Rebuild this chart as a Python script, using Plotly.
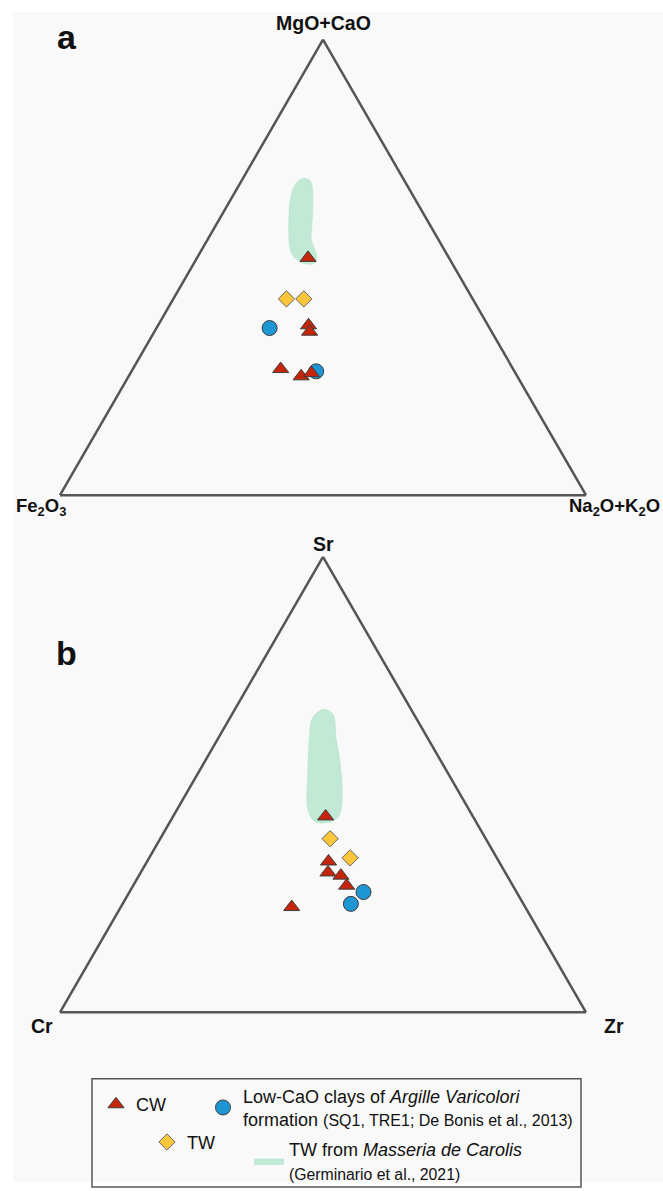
import plotly.graph_objects as go

# ---------------- data (fractions: top / bottom-left / bottom-right) ----------------
# Panel a: MgO+CaO / Fe2O3 / Na2O+K2O
a_cw_top = [0.521, 0.373, 0.359, 0.277, 0.261, 0.268]
a_cw_left = [0.268, 0.341, 0.346, 0.442, 0.411, 0.388]
a_cw_right = [0.211, 0.286, 0.295, 0.281, 0.328, 0.344]

a_tw_top = [0.431, 0.431]
a_tw_left = [0.354, 0.321]
a_tw_right = [0.215, 0.248]

a_clay_top = [0.367, 0.272]
a_clay_left = [0.418, 0.377]
a_clay_right = [0.215, 0.351]

a_field_top = [0.696, 0.690, 0.667, 0.623, 0.585, 0.563, 0.545, 0.528, 0.514, 0.508,
               0.508, 0.517, 0.534, 0.568, 0.612, 0.652, 0.683, 0.696]
a_field_left = [0.189, 0.179, 0.186, 0.208, 0.229, 0.241, 0.245, 0.248, 0.256, 0.265,
                0.280, 0.291, 0.294, 0.281, 0.259, 0.236, 0.211, 0.189]
a_field_right = [0.115, 0.131, 0.147, 0.169, 0.186, 0.196, 0.210, 0.224, 0.230, 0.227,
                 0.212, 0.192, 0.172, 0.151, 0.129, 0.112, 0.106, 0.115]

# Panel b: Sr / Cr / Zr
b_cw_top = [0.430, 0.331, 0.307, 0.300, 0.278, 0.231]
b_cw_left = [0.280, 0.324, 0.337, 0.316, 0.316, 0.444]
b_cw_right = [0.290, 0.345, 0.356, 0.384, 0.406, 0.325]

b_tw_top = [0.381, 0.339]
b_tw_left = [0.296, 0.279]
b_tw_right = [0.323, 0.382]

b_clay_top = [0.264, 0.238]
b_clay_left = [0.291, 0.328]
b_clay_right = [0.445, 0.434]

b_field_top = [0.665, 0.654, 0.602, 0.565, 0.491, 0.431, 0.416, 0.420, 0.446, 0.528, 0.602, 0.647, 0.665]
b_field_left = [0.166, 0.154, 0.174, 0.187, 0.218, 0.254, 0.285, 0.307, 0.306, 0.265, 0.225, 0.196, 0.166]
b_field_right = [0.169, 0.192, 0.224, 0.248, 0.291, 0.315, 0.299, 0.273, 0.248, 0.207, 0.173, 0.157, 0.169]

labels_a = ["MgO+CaO", "Fe<sub>2</sub>O<sub>3</sub>", "Na<sub>2</sub>O+K<sub>2</sub>O"]
labels_b = ["Sr", "Cr", "Zr"]

name_cw = "CW"
name_tw = "TW"
name_clay = ("Low-CaO clays of <i>Argille Varicolori</i><br>"
             "formation <span style='font-size:16px'>(SQ1, TRE1; De Bonis et al., 2013)</span>")
name_field = ("TW from <i>Masseria de Carolis</i><br>"
              "<span style='font-size:15.8px'>(Germinario et al., 2021)</span>")

# ---------------- styles ----------------
W, H = 663, 1191
FONT = "Liberation Sans, Arial, sans-serif"
RED = "#c4250b"
GOLD = "#fcc63c"
BLUE = "#1f96d4"
EDGE = "#3c3c3c"
GREEN_FILL = "rgba(165,225,193,0.65)"
BG = "#f9f9f9"

fig = go.Figure()


def add_panel(sub, field, clay, tw, cw, show):
    fig.add_trace(go.Scatterternary(
        a=field[0], b=field[1], c=field[2], subplot=sub, mode="lines",
        fill="toself", fillcolor=GREEN_FILL,
        line=dict(color=GREEN_FILL, width=0.5, shape="spline", smoothing=1.0),
        name=name_field, legend="legend4", legendgroup="field", showlegend=show,
        hoverinfo="skip"))
    fig.add_trace(go.Scatterternary(
        a=clay[0], b=clay[1], c=clay[2], subplot=sub, mode="markers",
        marker=dict(symbol="circle", size=15, color=BLUE, line=dict(color=EDGE, width=1)),
        name=name_clay, legend="legend2", legendgroup="clay", showlegend=show))
    fig.add_trace(go.Scatterternary(
        a=tw[0], b=tw[1], c=tw[2], subplot=sub, mode="markers",
        marker=dict(symbol="diamond", size=12.5, color=GOLD, line=dict(color="#666", width=1)),
        name=name_tw, legend="legend3", legendgroup="tw", showlegend=show))
    fig.add_trace(go.Scatterternary(
        a=cw[0], b=cw[1], c=cw[2], subplot=sub, mode="markers",
        marker=dict(symbol="triangle-up", size=14, color=RED, line=dict(color=EDGE, width=1)),
        name=name_cw, legend="legend", legendgroup="cw", showlegend=show))


add_panel("ternary",
          (a_field_top, a_field_left, a_field_right),
          (a_clay_top, a_clay_left, a_clay_right),
          (a_tw_top, a_tw_left, a_tw_right),
          (a_cw_top, a_cw_left, a_cw_right), True)
add_panel("ternary2",
          (b_field_top, b_field_left, b_field_right),
          (b_clay_top, b_clay_left, b_clay_right),
          (b_tw_top, b_tw_left, b_tw_right),
          (b_cw_top, b_cw_left, b_cw_right), False)

axis_style = dict(showgrid=False, showticklabels=False, ticks="", showline=True,
                  linecolor="#555555", linewidth=2.5, title=dict(text=""), min=0)


def ternary_layout(x0, x1, ytop, ybot):
    return dict(
        sum=1,
        domain=dict(x=[x0 / W, x1 / W], y=[1 - ybot / H, 1 - ytop / H]),
        bgcolor="rgba(0,0,0,0)",
        aaxis=axis_style, baxis=axis_style, caxis=axis_style,
    )


def px_x(v):
    return v / W


def px_y(v):
    return 1 - v / H


annotations = [
    dict(text="<b>a</b>", x=px_x(67), y=px_y(37), font=dict(size=34)),
    dict(text="<b>b</b>", x=px_x(66), y=px_y(658), font=dict(size=34)),
    dict(text="<b>%s</b>" % labels_a[0], x=px_x(323), y=px_y(23), font=dict(size=19.5)),
    dict(text="<b>%s</b>" % labels_a[1], x=px_x(14), y=px_y(511), xanchor="left", font=dict(size=18.5)),
    dict(text="<b>%s</b>" % labels_a[2], x=px_x(662), y=px_y(511), xanchor="right", font=dict(size=18.5)),
    dict(text="<b>%s</b>" % labels_b[0], x=px_x(323), y=px_y(548), font=dict(size=19.5)),
    dict(text="<b>%s</b>" % labels_b[1], x=px_x(29), y=px_y(1034), xanchor="left", font=dict(size=19.5)),
    dict(text="<b>%s</b>" % labels_b[2], x=px_x(602), y=px_y(1034), xanchor="left", font=dict(size=19.5)),
]
for an in annotations:
    an.update(xref="paper", yref="paper", showarrow=False)
    an.setdefault("xanchor", "center")
    an["yanchor"] = "middle"
    an["font"].update(family=FONT, color="#111111")

legend_common = dict(orientation="v", bgcolor="rgba(0,0,0,0)", borderwidth=0,
                     font=dict(family=FONT, size=18, color="#111111"),
                     xanchor="left", yanchor="middle", valign="middle",
                     itemsizing="trace")

fig.update_layout(
    width=W, height=H,
    margin=dict(l=0, r=0, t=0, b=0),
    paper_bgcolor="white",
    plot_bgcolor=BG,
    font=dict(family=FONT),
    ternary=ternary_layout(58, 588, 40, 499),
    ternary2=ternary_layout(58, 588, 561, 1020),
    annotations=annotations,
    shapes=[
        dict(type="rect", xref="paper", yref="paper", x0=px_x(13), x1=1, y0=0, y1=px_y(12),
             fillcolor=BG, line=dict(width=0), layer="below"),
        dict(type="rect", xref="paper", yref="paper", x0=px_x(92), x1=px_x(581),
             y0=px_y(1196), y1=px_y(1087), fillcolor="rgba(0,0,0,0)",
             line=dict(color="#555555", width=1.5), layer="above"),
    ],
    legend=dict(legend_common, x=px_x(96), y=px_y(1113)),
    legend2=dict(legend_common, x=px_x(203), y=px_y(1116)),
    legend3=dict(legend_common, x=px_x(147), y=px_y(1151)),
    legend4=dict(legend_common, x=px_x(249), y=px_y(1170)),
)

fig.write_html(
    "out.html",
    config={"displayModeBar": False},
    post_script="document.body.style.margin='0px';document.body.style.overflow='hidden';",
)
